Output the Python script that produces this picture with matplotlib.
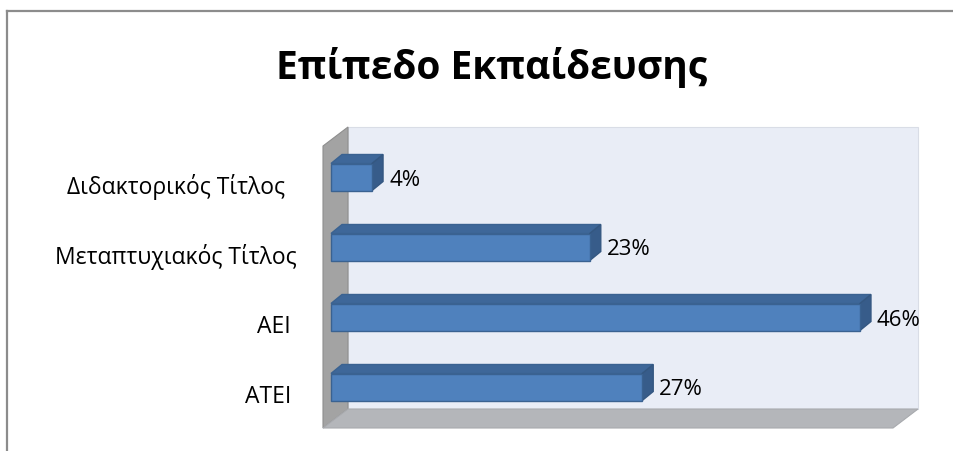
import matplotlib.pyplot as plt
from matplotlib.patches import Polygon
from matplotlib.lines import Line2D

plt.rcParams['font.family'] = ['Open Sans', 'DejaVu Sans']

# data (bottom to top)
categories = ['ΑΤΕΙ ', 'ΑΕΙ ', 'Μεταπτυχιακός Τίτλος', 'Διδακτορικός Τίτλος  ']
values = [27.3, 46.4, 22.7, 3.6]
title = 'Επίπεδο Εκπαίδευσης'
xmax = 50

# pixel scale of the 3d look
PX_X = 11.4   # px per percent
PX_Y = 70.0   # px per category
W, H = 954, 452

fig = plt.figure(figsize=(W / 100, H / 100), dpi=100)
ax = fig.add_axes([0, 0, 1, 1])
ax.set_xlim(-331 / PX_X, (W - 331) / PX_X)
ax.set_ylim(-64 / PX_Y, (H - 64) / PX_Y)
ax.axis('off')

def px(dx, dy):
    return dx / PX_X, dy / PX_Y

# walls
bx0 = px(17, 0)[0]           # back plane start
wdx, wdy = px(25, 19)        # wall depth
floor_back = -px(0, 22)[1]
wall_top = floor_back + px(0, 282)[1]
back = Polygon([(bx0, floor_back), (bx0 + xmax, floor_back), (bx0 + xmax, wall_top), (bx0, wall_top)],
               facecolor='#E9EDF6', edgecolor='#D9DDE6', lw=0.8, zorder=1)
left = Polygon([(bx0 - wdx, floor_back - wdy), (bx0, floor_back), (bx0, wall_top), (bx0 - wdx, wall_top - wdy)],
               facecolor='#A3A3A3', edgecolor='#8E8E8E', lw=0.8, zorder=2)
floor = Polygon([(bx0 - wdx, floor_back - wdy), (bx0 + xmax - wdx, floor_back - wdy),
                 (bx0 + xmax, floor_back), (bx0, floor_back)],
                facecolor='#B4B6BA', edgecolor='#A8AAAE', lw=0.8, zorder=2)
for p in (back, left, floor):
    ax.add_patch(p)

# bars
bh = px(0, 27)[1]
ddx, ddy = px(11, 9)
for i, v in enumerate(values):
    y0 = i - bh / 2
    y1 = i + bh / 2
    front = Polygon([(0, y0), (v, y0), (v, y1), (0, y1)],
                    facecolor='#4F81BD', edgecolor='#3A6291', lw=1, zorder=5)
    top = Polygon([(0, y1), (v, y1), (v + ddx, y1 + ddy), (ddx, y1 + ddy)],
                  facecolor='#3E6799', edgecolor='#3A6291', lw=1, zorder=4)
    side = Polygon([(v, y0), (v + ddx, y0 + ddy), (v + ddx, y1 + ddy), (v, y1)],
                   facecolor='#375C8A', edgecolor='#345781', lw=1, zorder=4)
    for p in (front, top, side):
        ax.add_patch(p)
    ax.text(v + ddx + px(6, 0)[0], i - px(0, 2)[1], f'{v:.0f}%', fontsize=16,
            ha='left', va='center', color='black', zorder=6)
    ax.text(-px(34, 0)[0], i - px(0, 9)[1], categories[i], fontsize=16.5,
            ha='right', va='center', color='black')

fig.text(492 / W, 1 - 68 / H, title, fontsize=28, fontweight='bold',
         ha='center', va='center')

# chart border
fig.add_artist(Line2D([7.5 / W, 7.5 / W], [0, 1 - 11.5 / H], transform=fig.transFigure,
                      color='#8C8C8C', lw=1.6))
fig.add_artist(Line2D([7.5 / W, 1], [1 - 11.5 / H, 1 - 11.5 / H], transform=fig.transFigure,
                      color='#8C8C8C', lw=1.6))

fig.savefig('out.png', dpi=100)
